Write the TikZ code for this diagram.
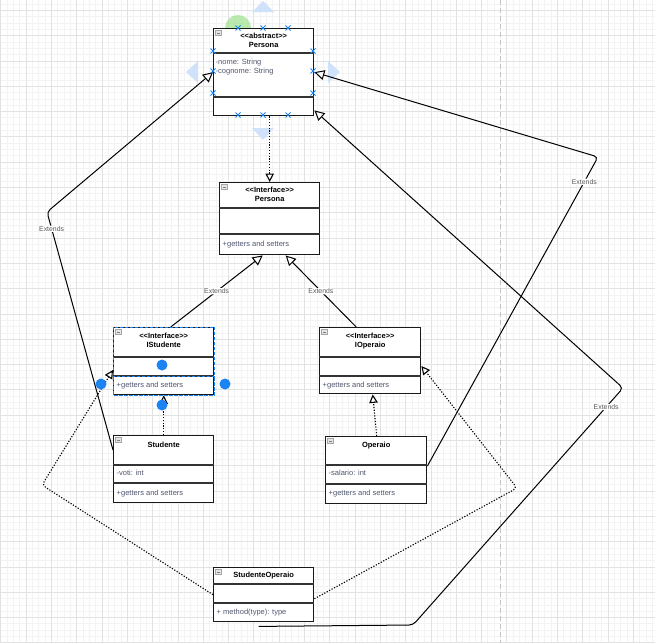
\documentclass[tikz,border=0pt]{standalone}
\usepackage{fontspec}
\setmainfont{Liberation Sans}
\usetikzlibrary{arrows.meta, calc, positioning}
\definecolor{umlMember}{HTML}{50556E}
\definecolor{umlLabel}{HTML}{5A5A5A}
\definecolor{gridMinor}{HTML}{F3F3F3}
\definecolor{gridMajor}{HTML}{E2E2E2}
\definecolor{pageLine}{HTML}{C4C4C4}
\definecolor{selBlue}{HTML}{1C84F2}
\definecolor{handleBlue}{HTML}{CFE2FA}
\definecolor{hoverGreen}{HTML}{8EDC7A}
\newcommand{\lgl}{<\kern0pt<}
\newcommand{\rgl}{>\kern0pt>}
\tikzset{
  % pixel-like units, y grows downwards as in the screenshot
  every picture/.append style = {x=1pt, y=-1pt},
  classbox/.style  = {draw=black!90, fill=white, line width=1.4pt, anchor=north west, inner sep=0pt},
  sepline/.style   = {black!80, line width=1.1pt},
  ttl/.style       = {font=\fontsize{7.5}{8.6}\selectfont\bfseries, align=center, inner sep=0pt},
  mbr/.style       = {font=\fontsize{7.5}{9.4}\selectfont, text=umlMember, anchor=west, inner sep=0pt, align=left},
  extends/.style   = {line width=1pt, rounded corners=4pt, -{Triangle[open, length=10pt, width=10pt]}},
  realizes/.style  = {line width=1.1pt, dash pattern=on 1.2pt off 1.6pt, rounded corners=4pt,
                      -{Triangle[open, length=8.5pt, width=8.5pt]}},
  lbl/.style       = {font=\fontsize{6.9}{8}\selectfont, text=umlLabel, fill=white, inner sep=0.6pt},
  foldicon/.style  = {draw=gray!70, fill=gray!20, line width=0.5pt},
  xmark/.style     = {selBlue, line width=0.9pt},
  dothandle/.style = {circle, fill=selBlue, inner sep=0pt, minimum size=11pt},
}

\begin{document}
\begin{tikzpicture}
\useasboundingbox (0,0) rectangle (655,643);
\fill[white] (0,0) rectangle (655,643);

% ---- grid and page break -------------------------------------------------
\foreach \i in {0,...,103} {\draw[gridMinor, line width=0.5pt] ({0.7+6.325*\i},0) -- ++(0,643);}
\foreach \i in {0,...,101} {\draw[gridMinor, line width=0.5pt] (0,{3.875+6.325*\i}) -- ++(655,0);}
\foreach \i in {0,...,25} {\draw[gridMajor, line width=0.6pt] ({0.7+25.3*\i},0) -- ++(0,643);}
\foreach \i in {0,...,25} {\draw[gridMajor, line width=0.6pt] (0,{10.2+25.3*\i}) -- ++(655,0);}
\draw[pageLine, line width=0.8pt, dash pattern=on 5pt off 3pt] (500,0) -- (500,643);

% ---- hover handles round the abstract class -------------------------------
\fill[hoverGreen, opacity=0.6] (238,28) circle (13);
\fill[handleBlue] (252,12) -- (263,1) -- (274,12) -- cycle;
\fill[handleBlue] (328,61) -- (340,72) -- (328,83) -- cycle;
\fill[handleBlue] (252,128) -- (274,128) -- (263,140) -- cycle;
\fill[handleBlue] (198,61) -- (186,72) -- (198,83) -- cycle;

% ---- classes ---------------------------------------------------------------
\node[classbox, minimum width=100pt, minimum height=87pt] (absP)  at (213,28)  {};
\node[classbox, minimum width=100pt, minimum height=72pt] (intP)  at (219,182) {};
\node[classbox, minimum width=100pt, minimum height=67pt] (istud) at (113,327) {};
\node[classbox, minimum width=101pt, minimum height=66pt] (iop)   at (319,327) {};
\node[classbox, minimum width=100pt, minimum height=67pt] (stud)  at (113,435) {};
\node[classbox, minimum width=101pt, minimum height=67pt] (op)    at (325,436) {};
\node[classbox, minimum width=100pt, minimum height=54pt] (stuop) at (213,567) {};

\foreach \n/\a/\b in {absP/25/69, intP/26/52, istud/30/49, iop/30/49, stud/30/48, op/29/48, stuop/17/36} {
  \draw[sepline] ($(\n.north west)+(0,\a)$) -- ($(\n.north east)+(0,\a)$);
  \draw[sepline] ($(\n.north west)+(0,\b)$) -- ($(\n.north east)+(0,\b)$);
  \draw[foldicon] ($(\n.north west)+(2.5,2.5)$) rectangle ++(6,5);
  \draw[gray, line width=0.5pt] ($(\n.north west)+(4,5)$) -- ++(3,0);
}

\node[ttl, below=5pt of absP.north]  (absPttl)  {\lgl abstract\rgl\\Persona};
\node[ttl, below=5pt of intP.north]  (intPttl)  {\lgl Interface\rgl\\Persona};
\node[ttl, below=6pt of istud.north] (istudttl) {\lgl Interface\rgl\\IStudente};
\node[ttl, below=6pt of iop.north]   (iopttl)   {\lgl Interface\rgl\\IOperaio};
\node[ttl, below=7pt of stud.north]  (studttl)  {Studente};
\node[ttl, below=6pt of op.north]    (opttl)    {Operaio};
\node[ttl, below=5pt of stuop.north] (stuopttl) {StudenteOperaio};

\node[mbr] (absPattr)  at ($(absP.north west)+(2.5,39)$)  {-nome: String\\-cognome: String};
\node[mbr] (intPmeth)  at ($(intP.north west)+(3.5,63)$)  {+getters and setters};
\node[mbr] (istudmeth) at ($(istud.north west)+(3.5,59)$) {+getters and setters};
\node[mbr] (iopmeth)   at ($(iop.north west)+(3.5,59)$)   {+getters and setters};
\node[mbr] (studattr)  at ($(stud.north west)+(3.5,38)$)  {-voti: int};
\node[mbr] (studmeth)  at ($(stud.north west)+(3.5,59)$)  {+getters and setters};
\node[mbr] (opattr)    at ($(op.north west)+(3.5,37)$)    {-salario: int};
\node[mbr] (opmeth)    at ($(op.north west)+(3.5,58)$)    {+getters and setters};
\node[mbr] (stuopmeth) at ($(stuop.north west)+(3.5,46)$) {+ method(type): type};

% ---- relations ---------------------------------------------------------------
\coordinate (bendL)   at (47,212);
\coordinate (bendR)   at (598,157);
\coordinate (bendSO1) at (413,625);
\coordinate (bendSO2) at (623,388);
\coordinate (bendDL)  at (42,485);
\coordinate (bendDR)  at (517,488);

\draw[realizes] (intP.north |- absP.south) -- (intP.north);
\draw[extends] ($(istud.north)+(7,0)$) -- node[lbl] {Extends} ($(intP.south)+(-7,0)$);
\draw[extends] ($(iop.north)+(-14,0)$) -- node[lbl] {Extends} ($(intP.south)+(16,0)$);
\draw[extends] ($(stud.north west)+(0,15)$) -- node[lbl, pos=0.93] {Extends} (bendL) -- (absP.west);
\draw[extends] ($(op.north east)+(0,30)$) -- node[lbl, pos=0.92] {Extends} (bendR) -- (absP.east);
\draw[extends] ($(stuop.south)+(-5,4)$) -- (bendSO1) -- node[lbl, pos=0.92] {Extends} (bendSO2)
  -- ($(absP.south east)+(0,-6)$);
\draw[realizes] (stuop.west) -- (bendDL) -- ($(istud.north west)+(0,43)$);
\draw[realizes] ($(stuop.east)+(0,4)$) -- (bendDR) -- ($(iop.north east)+(0,39)$);
\draw[realizes] (stud.north) -- (istud.south);
\draw[realizes] ($(op.north)+(0.5,0)$) -- ($(iop.south)+(2.5,0)$);

% ---- selection marks ---------------------------------------------------------
\draw[selBlue, line width=1pt, dash pattern=on 3pt off 2pt] (istud.north west) rectangle (istud.south east);
\draw[selBlue, line width=1pt, dash pattern=on 3pt off 2pt] ($(istud.north west)+(0,49)$) rectangle (istud.south east);
\foreach \px/\py in {162/365, 101/384, 225/384, 162/405} {\node[dothandle] at (\px,\py) {};}
\foreach \px/\py in {238/28, 263/28, 288/28, 238/115, 263/115, 288/115,
                     213/51, 213/71, 213/93, 313/51, 313/71, 313/93} {
  \draw[xmark] (\px-2.5,\py-2.5) -- (\px+2.5,\py+2.5) (\px-2.5,\py+2.5) -- (\px+2.5,\py-2.5);
}
\end{tikzpicture}
\end{document}
